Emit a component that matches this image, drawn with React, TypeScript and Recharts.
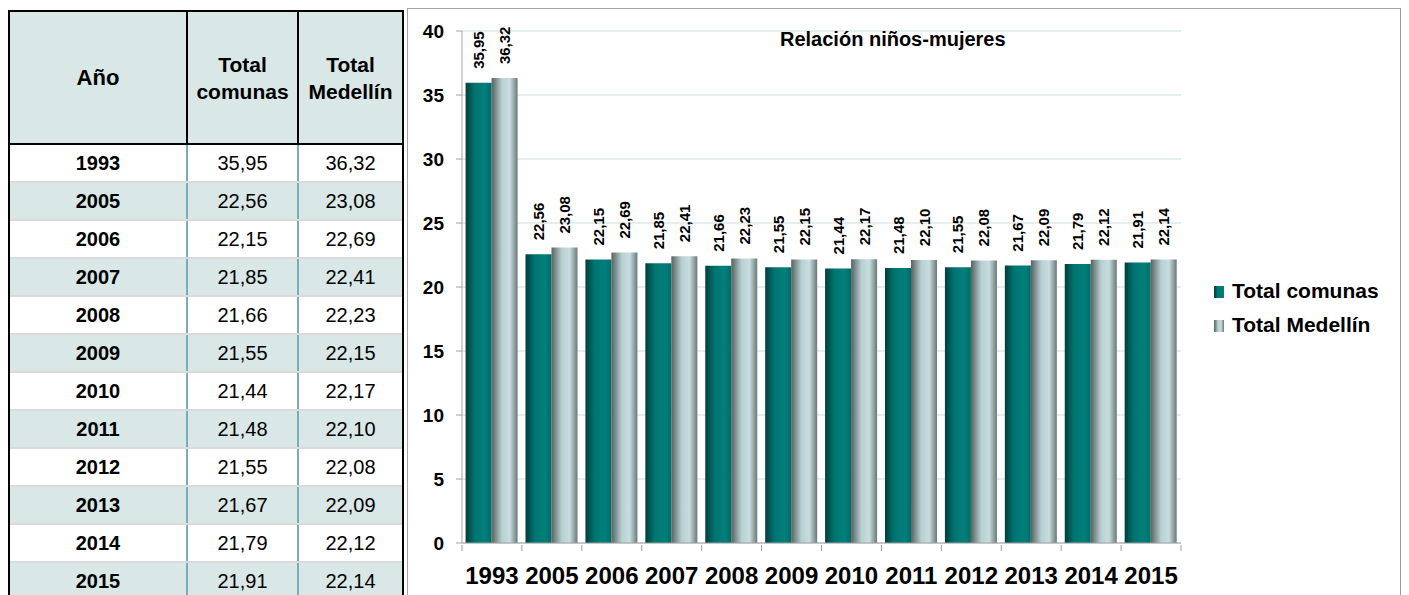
import { BarChart, Bar, XAxis, YAxis, CartesianGrid, LabelList } from 'recharts';

const years = ['1993', '2005', '2006', '2007', '2008', '2009', '2010', '2011', '2012', '2013', '2014', '2015'];
const totalComunas = [35.95, 22.56, 22.15, 21.85, 21.66, 21.55, 21.44, 21.48, 21.55, 21.67, 21.79, 21.91];
const totalMedellin = [36.32, 23.08, 22.69, 22.41, 22.23, 22.15, 22.17, 22.1, 22.08, 22.09, 22.12, 22.14];
const yTicks = [0, 5, 10, 15, 20, 25, 30, 35, 40];

const data = years.map((y, i) => ({ year: y, comunas: totalComunas[i], medellin: totalMedellin[i] }));

const FONT = '"Liberation Sans", Arial, sans-serif';
const fmt = (v: number) => v.toFixed(2).replace('.', ',');

const CHART_W = 992;
const CHART_H = 586;
const M = { top: 22, right: 219, left: 0, bottom: 12 };
const Y_W = 54;
const half = (CHART_W - M.left - M.right - Y_W) / years.length / 2;

const XTick = (props: any) => {
  const { x, y, payload, index } = props;
  return (
    <g>
      <line x1={x - half} x2={x - half} y1={y} y2={y + 6} stroke="#a0a0a0" />
      {index === years.length - 1 && <line x1={x + half} x2={x + half} y1={y} y2={y + 6} stroke="#a0a0a0" />}
      <text x={x} y={y + 39} textAnchor="middle" fontSize={24} fontWeight="bold" fontFamily={FONT} fill="#000">
        {payload.value}
      </text>
    </g>
  );
};

const BarLabel = (props: any) => {
  const { x, y, width, value } = props;
  const cx = x + width / 2;
  const ty = y - 14;
  return (
    <text
      x={cx}
      y={ty}
      transform={`rotate(-90, ${cx}, ${ty})`}
      textAnchor="start"
      dominantBaseline="central"
      fontSize={15}
      fontWeight="bold"
      fontFamily={FONT}
      fill="#000"
    >
      {fmt(value)}
    </text>
  );
};

const Gradients = () => (
  <defs>
    <linearGradient id="gTeal" x1="0" y1="0" x2="1" y2="0">
      <stop offset="0%" stopColor="#003d3c" />
      <stop offset="35%" stopColor="#007470" />
      <stop offset="75%" stopColor="#007f7b" />
      <stop offset="100%" stopColor="#006b67" />
    </linearGradient>
    <linearGradient id="gGray" x1="0" y1="0" x2="1" y2="0">
      <stop offset="0%" stopColor="#56625f" />
      <stop offset="40%" stopColor="#b9d0d2" />
      <stop offset="70%" stopColor="#c7dddf" />
      <stop offset="100%" stopColor="#6b7878" />
    </linearGradient>
  </defs>
);

const border = '2px solid #000';
const teal = '2px solid #7aaeb3';
const colW = [178, 111, 103];

function DataTable() {
  return (
    <div
      style={{
        position: 'absolute',
        left: 0,
        top: 2,
        width: 396,
        height: 620,
        border,
        boxSizing: 'border-box',
        fontFamily: FONT,
        color: '#000',
      }}
    >
      <div style={{ display: 'flex', height: 133, background: '#d9e7e7', borderBottom: border, boxSizing: 'border-box' }}>
        {['Año', 'Total comunas', 'Total Medellín'].map((h, i) => (
          <div
            key={h}
            style={{
              width: colW[i],
              borderRight: i < 2 ? border : 'none',
              boxSizing: 'border-box',
              display: 'flex',
              alignItems: 'center',
              justifyContent: 'center',
              textAlign: 'center',
              fontWeight: 'bold',
              fontSize: i === 0 ? 22 : 21,
              lineHeight: '27px',
            }}
          >
            {i === 0 ? h : <span>{h.split(' ')[0]}<br />{h.split(' ')[1]}</span>}
          </div>
        ))}
      </div>
      {years.map((y, r) => (
        <div
          key={y}
          style={{
            display: 'flex',
            height: 38,
            background: r % 2 === 1 ? '#d9e7e7' : '#fff',
            borderBottom: '2px solid #dadada',
            boxSizing: 'border-box',
            fontSize: 20,
          }}
        >
          {[y, fmt(totalComunas[r]), fmt(totalMedellin[r])].map((c, i) => (
            <div
              key={i}
              style={{
                width: colW[i],
                borderRight: i < 2 ? teal : 'none',
                boxSizing: 'border-box',
                display: 'flex',
                alignItems: 'center',
                justifyContent: 'center',
                fontWeight: i === 0 ? 'bold' : 'normal',
              }}
            >
              {c}
            </div>
          ))}
        </div>
      ))}
    </div>
  );
}

const legendItems = [
  { name: 'Total comunas', bg: 'linear-gradient(90deg,#003d3c,#007470 35%,#007f7b)' },
  { name: 'Total Medellín', bg: 'linear-gradient(90deg,#56625f,#b9d0d2 40%,#c7dddf 70%,#6b7878)' },
];

export default function App() {
  return (
    <div style={{ position: 'relative', width: 1393, height: 587, overflow: 'hidden', fontFamily: FONT }}>
      <DataTable />
      <div
        style={{
          position: 'absolute',
          left: 399,
          top: 0,
          width: 995,
          height: 620,
          border: '1px solid #a6a6a6',
          borderRight: '2px solid #999',
          boxSizing: 'border-box',
          background: '#fff',
        }}
      >
        <BarChart width={CHART_W} height={CHART_H} data={data} margin={M} barCategoryGap="6%" barGap={0}>
          <Gradients />
          <CartesianGrid vertical={false} stroke="#dde8e8" strokeWidth={1.5} />
          <XAxis
            dataKey="year"
            height={40}
            tickSize={0}
            tickLine={false}
            axisLine={{ stroke: '#a0a0a0' }}
            tick={<XTick />}
            interval={0}
          />
          <YAxis
            width={Y_W}
            domain={[0, 40]}
            ticks={yTicks}
            interval={0}
            tickSize={6}
            tickMargin={12}
            axisLine={{ stroke: '#a6a6a6' }}
            tickLine={{ stroke: '#a0a0a0' }}
            tick={{ fontSize: 19, fontWeight: 'bold', fill: '#000', fontFamily: FONT }}
          />
          <Bar dataKey="comunas" name="Total comunas" fill="url(#gTeal)" isAnimationActive={false}>
            <LabelList dataKey="comunas" content={<BarLabel />} />
          </Bar>
          <Bar dataKey="medellin" name="Total Medellín" fill="url(#gGray)" isAnimationActive={false}>
            <LabelList dataKey="medellin" content={<BarLabel />} />
          </Bar>
        </BarChart>
        <div
          style={{
            position: 'absolute',
            left: 372,
            top: 20,
            fontSize: 20,
            lineHeight: '20px',
            fontWeight: 'bold',
            whiteSpace: 'nowrap',
          }}
        >
          Relación niños-mujeres
        </div>
        {legendItems.map((l, i) => (
          <div
            key={l.name}
            style={{
              position: 'absolute',
              left: 806,
              top: 269 + i * 34,
              display: 'flex',
              alignItems: 'center',
              fontSize: 21,
              lineHeight: '26px',
              fontWeight: 'bold',
              whiteSpace: 'nowrap',
            }}
          >
            <span style={{ width: 10, height: 12, background: l.bg, marginRight: 8, display: 'inline-block', marginTop: 2 }} />
            {l.name}
          </div>
        ))}
      </div>
    </div>
  );
}
